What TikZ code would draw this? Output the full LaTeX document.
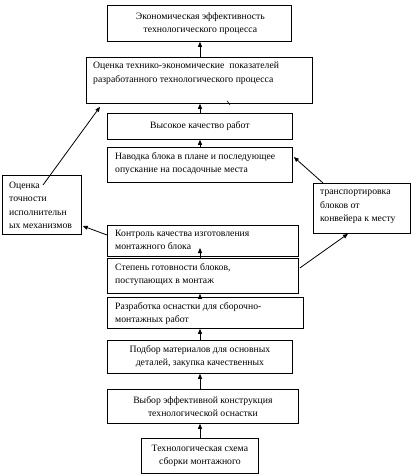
\documentclass[tikz,border=0pt]{standalone}
\usepackage{fontspec}
\setmainfont{Liberation Serif}
\usetikzlibrary{calc,arrows.meta}
\begin{document}
\begin{tikzpicture}[x=1pt,y=-1pt,
  box/.style={draw=black,line width=0.8pt,rectangle,inner sep=0pt,anchor=north west},
  txt/.style={font=\fontsize{9.7}{13.3}\selectfont,inner sep=0pt},
  ltxt/.style={txt,anchor=north west,align=left},
  ctxt/.style={txt,align=center},
  arr/.style={line width=0.8pt,-{Triangle[length=5pt,width=4pt]}}]
\useasboundingbox (0,0) rectangle (415,474);
\newcommand{\bx}[5]{\node[box,minimum width=#4-#2,minimum height=#5-#3] (#1) at (#2,#3) {};}
\bx{b1}{107}{5}{291}{41}
\bx{b2}{86}{57}{312}{103}
\bx{b3}{107}{113}{292}{139}
\bx{b4}{107}{147}{292}{182}
\bx{bl}{2}{175}{81}{234}
\bx{br}{313}{183}{410}{233}
\bx{b5}{107}{225}{298}{256}
\bx{b6}{107}{258}{298}{293}
\bx{b7}{107}{297}{303}{328}
\bx{b8}{107}{340}{292}{373}
\bx{b9}{107}{389}{298}{423}
\bx{b10}{141}{438}{258}{473}
\coordinate (ax) at (200,0);
% texts
\node[ctxt] at ($(b1.center)+(1,0)$) {Экономическая эффективность\\технологического процесса};
\node[ltxt] at ($(b2.north west)+(7,5)$) {Оценка технико-экономические\ \ показателей\\разработанного технологического процесса};
\node[ctxt] at (b3.center) {Высокое качество работ};
\node[ltxt] at ($(b4.north west)+(8,5)$) {Наводка блока в плане и последующее\\опускание на посадочные места};
\node[ltxt] at ($(bl.north west)+(7,7)$) {Оценка\\точности\\исполнительн\\ых механизмов};
\node[ltxt] at ($(br.north west)+(7,7)$) {транспортировка\\блоков от\\конвейера к месту};
\node[ltxt] at ($(b5.north west)+(8,5)$) {Контроль качества изготовления\\монтажного блока};
\node[ltxt] at ($(b6.north west)+(8,5)$) {Степень готовности блоков,\\поступающих в монтаж};
\node[ltxt] at ($(b7.north west)+(8,5)$) {Разработка оснастки для сборочно-\\монтажных работ};
\node[ctxt] at (b8.center) {Подбор материалов для основных\\деталей, закупка качественных};
\node[ctxt] at (b9.center) {Выбор эффективной конструкция\\технологической оснастки};
\node[ctxt] at (b10.center) {Технологическая схема\\сборки монтажного};
% vertical arrows
\draw[arr] (b2.north -| ax) -- (b1.south -| ax);
\draw[arr] (b3.north -| ax) -- (b2.south -| ax);
\draw[arr] (b4.north -| ax) -- (b3.south -| ax);
\coordinate (h56) at ($(b6.north -| ax)+(0,-10)$);
\draw[arr] (b6.north -| ax) -- (h56);
\draw[arr] (b7.north -| ax) -- (b6.south -| ax);
\draw[arr] (b8.north -| ax) -- (b7.south -| ax);
\draw[arr] (b9.north -| ax) -- (b8.south -| ax);
\draw[arr] (b10.north -| ax) -- (b9.south -| ax);
% side arrows
\draw[arr] ($(b5.north west)+(0,10)$) -- ($(bl.north east)+(1,51)$);
\draw[arr] ($(bl.north west)+(41,10)$) -- ($(b2.south west)+(14,3)$);
\draw[arr] ($(b6.north east)+(1,10)$) -- ($(br.south west)+(35,0)$);
\draw[arr] ($(br.north west)+(10,0)$) -- ($(b4.north east)+(1,10)$);
\draw[line width=0.6pt] ($(b2.south west)+(141,-3)$) -- ++(3,4);
\end{tikzpicture}
\end{document}
